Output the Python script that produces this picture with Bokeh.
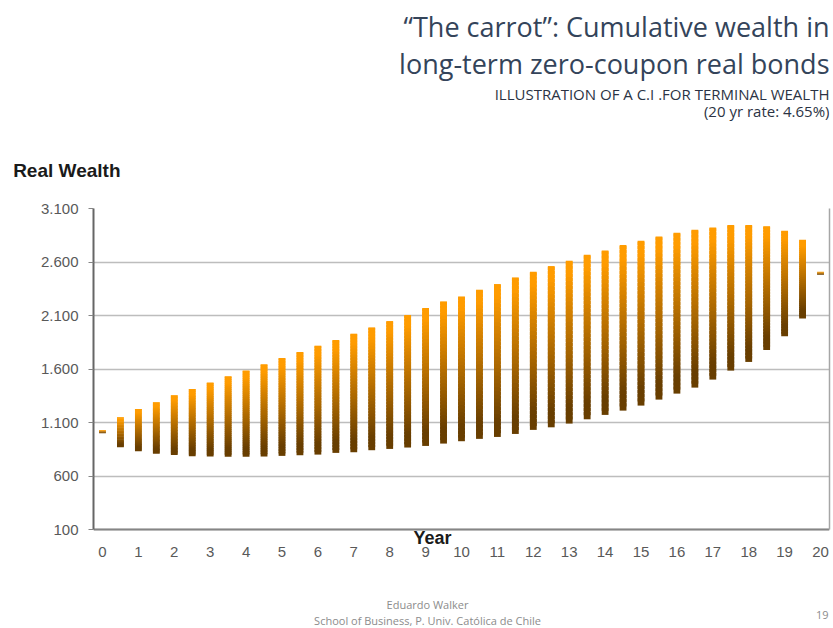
from bokeh.plotting import figure
from bokeh.models import Range1d, FixedTicker, Label, LinearAxis
from bokeh.layouts import column
from bokeh.embed import file_html
from bokeh.resources import INLINE

# ---------------- data ----------------
years = [0, 0.5, 1, 1.5, 2, 2.5, 3, 3.5, 4, 4.5, 5, 5.5, 6, 6.5, 7, 7.5, 8, 8.5, 9, 9.5,
         10, 10.5, 11, 11.5, 12, 12.5, 13, 13.5, 14, 14.5, 15, 15.5, 16, 16.5, 17, 17.5,
         18, 18.5, 19, 19.5, 20]
wealth_high = [1030, 1149, 1227, 1289, 1354, 1413, 1473, 1532, 1585, 1644, 1703, 1759, 1818,
               1871, 1930, 1989, 2048, 2105, 2170, 2232, 2278, 2341, 2394, 2456, 2509, 2562,
               2612, 2668, 2708, 2758, 2798, 2839, 2873, 2901, 2923, 2945, 2945, 2935, 2892,
               2808, 2510]
wealth_low = [1000, 869, 831, 807, 797, 785, 782, 780, 780, 782, 788, 794, 800, 816, 822, 841,
              853, 866, 881, 903, 925, 947, 965, 993, 1031, 1055, 1090, 1130, 1171, 1211, 1258,
              1314, 1370, 1426, 1501, 1585, 1666, 1778, 1905, 2073, 2480]
x_ticks = [0, 1, 2, 3, 4, 5, 6, 7, 8, 9, 10, 11, 12, 13, 14, 15, 16, 17, 18, 19, 20]
x_tick_labels = ["0", "1", "2", "3", "4", "5", "6", "7", "8", "9", "10", "11", "12", "13",
                 "14", "15", "16", "17", "18", "19", "20"]
y_ticks = [100, 600, 1100, 1600, 2100, 2600, 3100]
y_tick_labels = ["100", "600", "1.100", "1.600", "2.100", "2.600", "3.100"]

# ---------------- layout (page pixels) ----------------
PAGE_W, PAGE_H = 833, 628
TOP_H, BOT_H = 190, 37
MAIN_H = PAGE_H - TOP_H - BOT_H
FRAME_L, FRAME_R = 93, 829
FRAME_T, AXIS_Y, FRAME_B = 208, 529, 563
X0, X1 = -0.25, 20.25
Y_LO_TICK, Y_HI_TICK = y_ticks[0], y_ticks[-1]
UPP = (Y_HI_TICK - Y_LO_TICK) / (AXIS_Y - FRAME_T)
Y_BOTTOM = Y_LO_TICK - (FRAME_B - AXIS_Y) * UPP
BASE_SHIFT = 0.42  # measured baseline offset of rendered labels, in em


def dx(page_x):
    return X0 + (page_x - FRAME_L) / (FRAME_R - FRAME_L) * (X1 - X0)


def dy(page_y):
    return Y_HI_TICK - (page_y - FRAME_T) * UPP


def text_fig(y0, h, yaxis=False):
    # frame spans FRAME_L..FRAME_R horizontally (column aligns frames); data = page px
    f = figure(width=PAGE_W, height=h, output_backend="svg", toolbar_location=None,
               title=None, x_axis_location=None,
               y_axis_location="left" if yaxis else None,
               x_range=Range1d(FRAME_L, FRAME_R), y_range=Range1d(y0 + h, y0),
               min_border=0)
    f.outline_line_color = None
    f.xgrid.visible = False
    f.ygrid.visible = False
    return f


def add_label(fig, x, base_y, text, size_px, color, align="left", font="Open Sans",
              style="normal"):
    fig.add_layout(Label(x=x, y=base_y - BASE_SHIFT * size_px, text=text, text_align=align,
                         text_baseline="alphabetic", text_font=font,
                         text_font_size="%gpx" % size_px, text_color=color,
                         text_font_style=style))


# ---------------- header ----------------
top = text_fig(0, TOP_H, yaxis=True)
title_col = "#34445A"
sub_col = "#2B3344"
add_label(top, 829, 37, "\u201cThe carrot\u201d: Cumulative wealth in", 27, title_col, "right")
add_label(top, 829, 74, "long-term zero-coupon real bonds", 27, title_col, "right")
add_label(top, 829, 100, "ILLUSTRATION OF A C.I .FOR TERMINAL WEALTH", 15, sub_col, "right")
add_label(top, 829, 117, "(20 yr rate: 4.65%)", 15, sub_col, "right")

# "Real Wealth" heading as the header's left-axis label text (kept outside the clip region)
RW_Y = 170
hax = top.yaxis[0]
hax.ticker = FixedTicker(ticks=[RW_Y])
hax.major_label_overrides = {RW_Y: "Real Wealth"}
hax.axis_line_color = None
hax.major_tick_line_color = None
hax.minor_tick_line_color = None
hax.major_tick_out = 0
hax.major_tick_in = 0
hax.major_label_standoff = -27
hax.major_label_text_font = "Liberation Sans"
hax.major_label_text_font_style = "bold"
hax.major_label_text_font_size = "19px"
hax.major_label_text_color = "#1A1A1A"

# ---------------- main chart ----------------
p = figure(width=PAGE_W, height=MAIN_H, output_backend="svg", toolbar_location=None,
           title=None, x_axis_location=None,
           x_range=Range1d(X0, X1), y_range=Range1d(Y_BOTTOM, Y_HI_TICK),
           min_border_left=FRAME_L, min_border_right=PAGE_W - FRAME_R,
           min_border_top=FRAME_T - TOP_H, min_border_bottom=TOP_H + MAIN_H - FRAME_B)
p.outline_line_color = None
p.background_fill_color = "white"
p.border_fill_color = "white"

# gradient bars: each range split into thin overlapping slices
N = 40
top_c = (255, 156, 0)
bot_c = (104, 62, 0)
xs, bots, tops, cols = [], [], [], []
for x, lo, hi in zip(years, wealth_low, wealth_high):
    for k in range(N):
        b = lo + (hi - lo) * k / N
        t = min(hi, lo + (hi - lo) * (k + 1.8) / N)
        pos = 1 - (k + 0.5) / N  # 0 at top, 1 at bottom
        s = min(max((pos - 0.08) / 0.82, 0), 1)
        c = [a * (1 - s) + z * s for a, z in zip(top_c, bot_c)]
        xs.append(x)
        bots.append(b)
        tops.append(t)
        cols.append("#%02x%02x%02x" % tuple(int(round(v)) for v in c))

p.vbar(x=xs, bottom=bots, top=tops, width=0.19, fill_color=cols, line_color=None)

axis_font = "Liberation Sans"
xaxis = LinearAxis(fixed_location=Y_LO_TICK, ticker=FixedTicker(ticks=x_ticks))
xaxis.major_label_overrides = {t: l for t, l in zip(x_ticks, x_tick_labels)}
xaxis.major_tick_line_color = None
xaxis.major_tick_out = 0
xaxis.major_tick_in = 0
xaxis.minor_tick_line_color = None
xaxis.axis_line_color = "#858585"
xaxis.axis_line_width = 2
xaxis.major_label_standoff = 17
xaxis.major_label_text_font = axis_font
xaxis.major_label_text_font_size = "15px"
xaxis.major_label_text_color = "#595959"
p.add_layout(xaxis, "below")

yax = p.yaxis[0]
yax.bounds = (Y_LO_TICK, Y_HI_TICK)
yax.ticker = FixedTicker(ticks=y_ticks)
yax.major_label_overrides = {t: l for t, l in zip(y_ticks, y_tick_labels)}
yax.minor_tick_line_color = None
yax.major_tick_in = 0
yax.major_tick_out = 5
yax.major_tick_line_color = "#858585"
yax.axis_line_color = "#666666"
yax.axis_line_width = 2
yax.major_label_standoff = 10
yax.major_label_text_font = axis_font
yax.major_label_text_font_size = "15px"
yax.major_label_text_color = "#595959"

rax = LinearAxis(bounds=(Y_LO_TICK, Y_HI_TICK), ticker=FixedTicker(ticks=[]))
rax.major_tick_in = 0
rax.major_tick_out = 0
rax.minor_tick_line_color = None
rax.major_label_text_font_size = "0px"
rax.major_label_standoff = 0
rax.axis_line_color = "#A6A6A6"
rax.axis_line_width = 1.5
p.add_layout(rax, "right")

p.xgrid.visible = False
p.ygrid.ticker = FixedTicker(ticks=y_ticks)
p.ygrid.grid_line_color = "#BDBDBD"
p.ygrid.grid_line_width = 1.3

YEAR_SIZE = 18
p.add_layout(Label(x=dx(432), y=dy(545 - BASE_SHIFT * YEAR_SIZE), text="Year",
                   text_align="center", text_baseline="alphabetic",
                   text_font="Liberation Sans", text_font_style="bold",
                   text_font_size="%dpx" % YEAR_SIZE, text_color="#1A1A1A"))

# ---------------- footer ----------------
bot = text_fig(PAGE_H - BOT_H, BOT_H)
foot_col = "#8C8C8C"
add_label(bot, 427, 609, "Eduardo Walker", 11, foot_col, "center")
add_label(bot, 427, 624.3, "School of Business, P. Univ. Cat\u00f3lica de Chile", 11, foot_col, "center")
add_label(bot, 828, 619, "19", 11, foot_col, "right")

layout = column(top, p, bot, spacing=0)
open("out.html", "w").write(file_html(layout, INLINE))
